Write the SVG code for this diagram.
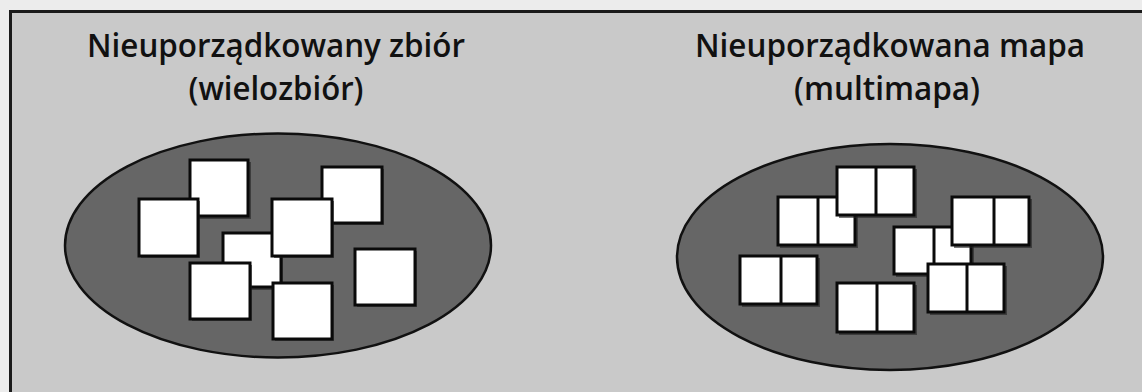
<svg xmlns="http://www.w3.org/2000/svg" width="1142" height="392" viewBox="0 0 1142 392">
<defs>
<style>
.title{font-family:"Open Sans","Liberation Sans",sans-serif;font-weight:600;font-size:33px;fill:#111;text-anchor:middle}
.set{fill:#666;stroke:#111;stroke-width:2.5}
.sq{fill:#fff;stroke:#0a0a0a;stroke-width:3}
.sh{fill:#222;opacity:0.6}
.div{stroke:#0a0a0a;stroke-width:3}
</style>
</defs>
<rect x="0" y="0" width="1142" height="392" fill="#ececec"/>
<rect x="10.5" y="11.5" width="1140" height="390" fill="#c9c9c9" stroke="#1a1a1a" stroke-width="3"/>
<g id="multiset">
<text class="title" x="276" y="57" textLength="378" lengthAdjust="spacingAndGlyphs">Nieuporządkowany zbiór</text>
<text class="title" x="276" y="100" textLength="175" lengthAdjust="spacingAndGlyphs">(wielozbiór)</text>
<ellipse class="set" cx="278" cy="245.5" rx="213" ry="112"/>
<g id="s1"><rect class="sh" x="192" y="162" width="59" height="57"/><rect class="sq" x="190" y="160" width="58" height="56"/></g>
<g id="s2"><rect class="sh" x="141" y="201" width="59" height="57"/><rect class="sq" x="139" y="199" width="59" height="57"/></g>
<g id="s3"><rect class="sh" x="324" y="169" width="60" height="56"/><rect class="sq" x="322" y="167" width="60" height="56"/></g>
<g id="s5"><rect class="sh" x="225" y="235" width="58" height="55"/><rect class="sq" x="223" y="233" width="58" height="54"/></g>
<g id="s4"><rect class="sh" x="274" y="201" width="60" height="57"/><rect class="sq" x="272" y="199" width="60" height="57"/></g>
<g id="s6"><rect class="sh" x="192" y="265" width="60" height="56"/><rect class="sq" x="190" y="263" width="60" height="56"/></g>
<g id="s7"><rect class="sh" x="275" y="285" width="59" height="56"/><rect class="sq" x="273" y="283" width="59" height="56"/></g>
<g id="s8"><rect class="sh" x="357" y="251" width="60" height="56"/><rect class="sq" x="355" y="249" width="60" height="56"/></g>
</g>
<g id="multimap">
<text class="title" x="890" y="57" textLength="390" lengthAdjust="spacingAndGlyphs">Nieuporządkowana mapa</text>
<text class="title" x="887" y="100" textLength="186" lengthAdjust="spacingAndGlyphs">(multimapa)</text>
<ellipse class="set" cx="890" cy="257" rx="213" ry="113"/>
<g id="mB"><rect class="sh" x="780" y="199" width="78" height="49"/><rect class="sq" x="778" y="197" width="77" height="48"/><line class="div" x1="818" y1="197" x2="818" y2="245"/></g>
<g id="mA"><rect class="sh" x="839" y="169" width="78" height="49"/><rect class="sq" x="837" y="167" width="77" height="48"/><line class="div" x1="876" y1="167" x2="876" y2="215"/></g>
<g id="mC"><rect class="sh" x="742" y="258" width="78" height="49"/><rect class="sq" x="740" y="256" width="77" height="48"/><line class="div" x1="781" y1="256" x2="781" y2="304"/></g>
<g id="mD"><rect class="sh" x="839" y="285" width="78" height="50"/><rect class="sq" x="837" y="283" width="77" height="49"/><line class="div" x1="877" y1="283" x2="877" y2="332"/></g>
<g id="mE"><rect class="sh" x="896" y="229" width="78" height="48"/><rect class="sq" x="894" y="227" width="77" height="47"/><line class="div" x1="934" y1="227" x2="934" y2="274"/></g>
<g id="mF"><rect class="sh" x="954" y="199" width="78" height="49"/><rect class="sq" x="952" y="197" width="77" height="48"/><line class="div" x1="994" y1="197" x2="994" y2="245"/></g>
<g id="mG"><rect class="sh" x="930" y="266" width="77" height="49"/><rect class="sq" x="928" y="264" width="76" height="48"/><line class="div" x1="967" y1="264" x2="967" y2="312"/></g>
</g>
<g id="connectors"/>
</svg>
